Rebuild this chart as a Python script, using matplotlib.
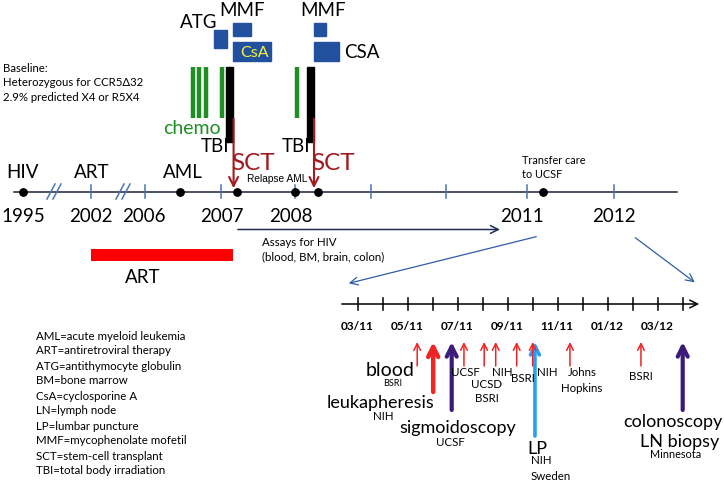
import numpy as np
import matplotlib.pyplot as plt

plt.rcParams['font.family'] = ['Lato', 'DejaVu Sans']

# upper timeline: anchor years and where they sit along the axis (broken scale)
anchor_years = [1995, 2002, 2006, 2007, 2008, 2009, 2010, 2011, 2012]
anchor_pos = [23, 91, 145, 221, 295, 371, 446, 527, 614]
tick_years = [2002, 2006, 2007, 2008, 2009, 2010, 2011, 2012]
year_labels = ['1995', '2002', '2006', '2007', '2008', '2011', '2012']
year_label_at = [1994.95, 2001.94, 2005.91, 2007.01, 2007.95, 2010.94, 2012.09]

event_dots = [1995.0, 2006.46, 2007.21, 2008.0, 2008.30, 2011.18]
event_names = ['HIV', 'ART', 'AML']
event_name_at = [1995.0, 2002.03, 2006.50]

chemo = [2006.63, 2006.71, 2006.80, 2007.01, 2008.02]
tbi = [(2007.07, 2007.16), (2008.16, 2008.25)]
sct = [2007.17, 2008.25]
# drug courses: (start, end)
atg = [(2006.91, 2007.08)]
mmf = [(2007.16, 2007.41), (2008.25, 2008.41)]
csa = [(2007.16, 2007.67), (2008.25, 2008.58)]
art_course = (2001.97, 2007.16)
assays = (2007.19, 2010.70)

# lower timeline: months after 03/11
month_ticks = list(range(14))
month_labels = ['03/11', '05/11', '07/11', '09/11', '11/11', '01/12', '03/12']
month_label_at = [0, 2, 4, 6, 8, 10, 12]
blood_draws = [2.38, 4.25, 5.06, 5.52, 6.36, 7.0, 8.49, 11.33]
leukapheresis = [3.02]
scopes = [3.76, 13.0]
lumbar = [7.09]

abbrev = ['AML=acute myeloid leukemia', 'ART=antiretroviral therapy',
          'ATG=antithymocyte globulin', 'BM=bone marrow',
          'CsA=cyclosporine A', 'LN=lymph node', 'LP=lumbar puncture',
          'MMF=mycophenolate mofetil', 'SCT=stem-cell transplant',
          'TBI=total body irradiation']


def tx(y):
    return np.interp(y, anchor_years, anchor_pos)


def mx(m):
    return 357.7 + 25.0 * np.asarray(m)


fig = plt.figure(figsize=(7.24, 4.83), dpi=100)
ax = fig.add_axes([0, 0, 1, 1])
ax.set_xlim(0, 724)
ax.set_ylim(483, 0)
ax.axis('off')

blue = '#21509e'
green = '#1f8f24'
dred = '#a11a1f'
navy = '#1f2d57'
big = 13.5

# ---- upper timeline
ax.plot([14, 677], [191.5, 191.5], color='#1a2235', lw=1.1, zorder=1)
for t in tick_years:
    ax.plot([tx(t), tx(t)], [185, 198], color='#4a74b4', lw=1.1, zorder=1)
for xs in [54, 123]:
    for d in [-3, 3]:
        ax.plot([xs + d - 4, xs + d + 4], [199, 184], color='#4a74b4', lw=1.1)
ax.scatter(tx(event_dots), [191.5] * len(event_dots), s=28, color='black', zorder=3)
for lab, y in zip(year_labels, year_label_at):
    ax.text(tx(y), 216, lab, ha='center', va='center', fontsize=big)
for lab, y in zip(event_names, event_name_at):
    ax.text(tx(y), 172, lab, ha='center', va='center', fontsize=big)
ax.text(tx(2008.0) - 18, 178.5, 'Relapse AML', ha='center', va='center',
        fontsize=7.3, family='Liberation Sans')
ax.text(522, 161, 'Transfer care', ha='left', va='center', fontsize=7.8)
ax.text(522, 175, 'to UCSF', ha='left', va='center', fontsize=7.8)

# chemo, TBI, SCT
for c in chemo:
    ax.plot([tx(c), tx(c)], [66.5, 117.5], color=green, lw=3.2, solid_capstyle='butt')
ax.text(192, 128.5, 'chemo', ha='center', va='center', fontsize=big + 0.5, color=green)
for a, b in tbi:
    ax.add_patch(plt.Rectangle((tx(a), 66.5), tx(b) - tx(a), 75, color='black'))
    ax.text(tx(a) - 11, 147, 'TBI', ha='center', va='center', fontsize=big)
for s in sct:
    ax.annotate('', xy=(tx(s), 191), xytext=(tx(s), 116),
                arrowprops=dict(arrowstyle='->', color=dred, lw=1.5, mutation_scale=16))
    ax.text(tx(s) + 19, 163.5, 'SCT', ha='center', va='center', fontsize=17.5, color=dred)

# drugs
for a, b in atg:
    ax.add_patch(plt.Rectangle((tx(a), 29.5), tx(b) - tx(a), 18, color=blue))
    ax.text(tx(a) - 15, 23, 'ATG', ha='center', va='center', fontsize=big)
for a, b in mmf:
    ax.add_patch(plt.Rectangle((tx(a), 22.5), tx(b) - tx(a), 13, color=blue))
    ax.text(tx(a) + 9.5, 10, 'MMF', ha='center', va='center', fontsize=big)
for a, b in csa:
    ax.add_patch(plt.Rectangle((tx(a), 41.5), tx(b) - tx(a), 19.5, color=blue))
ax.text(255, 53, 'CsA', ha='center', va='center', fontsize=11.5, color='#f4f03a')
ax.text(362, 53, 'CSA', ha='center', va='center', fontsize=big)

# baseline text
for i, line in enumerate(['Baseline:', 'Heterozygous for CCR5\u039432',
                          '2.9% predicted X4 or R5X4']):
    ax.text(3, 68.5 + 14.5 * i, line, ha='left', va='center', fontsize=8.2)

# ART course and HIV assays
ax.add_patch(plt.Rectangle((tx(art_course[0]), 248.5), tx(art_course[1]) - tx(art_course[0]),
                           12.5, color='#ff0000', lw=0))
ax.text(143, 277.5, 'ART', ha='center', va='center', fontsize=big)
ax.annotate('', xy=(tx(assays[1]), 229.5), xytext=(tx(assays[0]), 229.5),
            arrowprops=dict(arrowstyle='->', color=navy, lw=1.1, mutation_scale=14))
ax.text(262, 242, 'Assays for HIV', ha='left', va='center', fontsize=8.3)
ax.text(262, 257, '(blood, BM, brain, colon)', ha='left', va='center', fontsize=8.3)

# zoom arrows
ax.annotate('', xy=(346, 284), xytext=(539, 236),
            arrowprops=dict(arrowstyle='->', color='#2d5ea8', lw=0.9, mutation_scale=14))
ax.annotate('', xy=(697, 284), xytext=(633, 236),
            arrowprops=dict(arrowstyle='->', color='#2d5ea8', lw=0.9, mutation_scale=14))

# ---- lower timeline
ax.annotate('', xy=(702, 304), xytext=(339, 304),
            arrowprops=dict(arrowstyle='->', color='black', lw=1.1, mutation_scale=14))
for m in month_ticks:
    ax.plot([mx(m), mx(m)], [298, 310], color='black', lw=1.1)
for lab, m in zip(month_labels, month_label_at):
    ax.text(mx(m) - 1, 327, lab, ha='center', va='center', fontsize=8.6, fontweight='bold')


def up_arrow(m, y0, color, lw, ms):
    ax.annotate('', xy=(mx(m), 342), xytext=(mx(m), y0),
                arrowprops=dict(arrowstyle='->', color=color, lw=lw, mutation_scale=ms,
                                shrinkA=0, shrinkB=0))


for m in lumbar:
    up_arrow(m, 436, '#2a9df4', 2.6, 16)
for m in blood_draws:
    up_arrow(m, 366, '#f02424', 1.1, 12)
for m in leukapheresis:
    up_arrow(m, 392, '#f02424', 3.2, 18)
for m in scopes:
    up_arrow(m, 410, '#3b1a78', 3.0, 18)

small = 8.3
big2 = 13
labels = [
    ('blood', 390, 371, 14), ('BSRI', 393, 383, 6.5),
    ('leukapheresis', 380, 403, big2), ('NIH', 383, 417, small),
    ('sigmoidoscopy', 458, 428, big2), ('UCSF', 450, 442, small),
    ('UCSF', 465, 373, small), ('UCSD', 487, 385, small), ('BSRI', 487, 399, small),
    ('NIH', 502, 373, small), ('BSRI', 523, 378, small), ('NIH', 547, 373, small),
    ('Johns', 582, 373, small), ('Hopkins', 582, 388, small), ('BSRI', 641, 376, small),
    ('LP', 537, 449, big2), ('NIH', 541, 461, small), ('Sweden', 551, 476, small),
    ('colonoscopy', 673, 422, big2), ('LN biopsy', 680, 442, big2),
    ('Minnesota', 676, 455, 7.8),
]
for txt, x, y, fs in labels:
    ax.text(x, y, txt, ha='center', va='center', fontsize=fs)

# abbreviations
for i, line in enumerate(abbrev):
    ax.text(36, 336 + 15 * i, line, ha='left', va='center', fontsize=8.3)

fig.savefig('out.png', dpi=100)
